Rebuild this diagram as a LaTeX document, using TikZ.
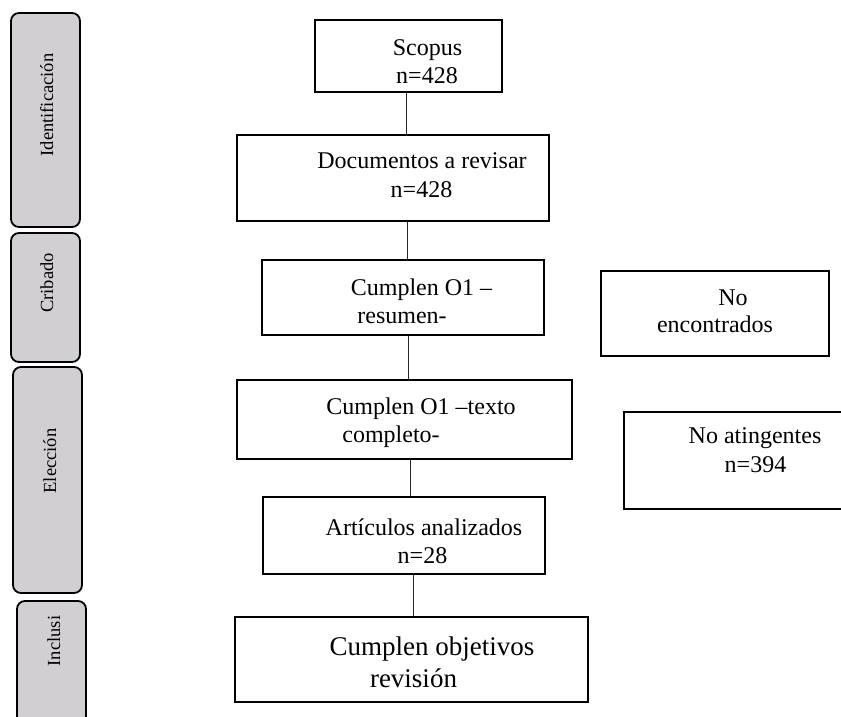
\documentclass[tikz,border=0pt]{standalone}
\usepackage{fontspec}
\setmainfont{Liberation Serif}
\definecolor{phase}{RGB}{209,207,210}
\begin{document}
\begin{tikzpicture}[x=1pt,y=-1pt,
  phasebox/.style={draw=black, line width=1.8pt, fill=phase, rounded corners=8pt, inner sep=0pt},
  flowbox/.style={draw=black, line width=1.6pt, inner sep=0pt},
  phasetext/.style={rotate=90, anchor=base, inner sep=0pt, font=\fontsize{18.5}{22}\selectfont},
  txt/.style={anchor=base, inner sep=0pt, font=\fontsize{24}{28}\selectfont},
  bigtxt/.style={anchor=base, inner sep=0pt, font=\fontsize{27}{31}\selectfont},
  link/.style={draw=black!85, line width=1pt}]
\useasboundingbox (0,0) rectangle (841,716);
\clip (0,0) rectangle (841,716);
\fill[white] (0,0) rectangle (841,716);

% phase boxes
\node[phasebox, minimum width=69pt, minimum height=214pt] (ident) at (45.5,120) {};
\node[phasebox, minimum width=69pt, minimum height=129pt] (crib) at (45.5,297.5) {};
\node[phasebox, minimum width=69pt, minimum height=226pt] (elec) at (47.5,480) {};
\node[phasebox, minimum width=69pt, minimum height=123pt] (incl) at (51.5,662.5) {};
\node[phasetext] (identT) at (53,105) {Identificación};
\node[phasetext] (cribT) at (53,283) {Cribado};
\node[phasetext] (elecT) at (56,461) {Elección};
\node[phasetext] (inclT) at (60,641) {Inclusi};

% flow boxes
\node[flowbox, minimum width=187pt, minimum height=72pt] (scopus) at (408.5,56) {};
\node[flowbox, minimum width=312pt, minimum height=86pt] (docs) at (393,178) {};
\node[flowbox, minimum width=282pt, minimum height=75pt] (res) at (403,297.5) {};
\node[flowbox, minimum width=228pt, minimum height=85pt] (noenc) at (715,313.5) {};
\node[flowbox, minimum width=335pt, minimum height=79pt] (texto) at (404.5,419.5) {};
\node[flowbox, minimum width=266pt, minimum height=97pt] (noat) at (757,460.5) {};
\node[flowbox, minimum width=282pt, minimum height=77pt] (art) at (404,535.5) {};
\node[flowbox, minimum width=353pt, minimum height=85pt] (obj) at (411.5,659.5) {};

% texts
\node[txt] (scopusA) at (427.5,55) {Scopus};
\node[txt] (scopusB) at (427,83) {n=428};
\node[txt] (docsA) at (422,168) {Documentos a revisar};
\node[txt] (docsB) at (421.5,197) {n=428};
\node[txt] (resA) at (421.5,295) {Cumplen O1 –};
\node[txt] (resB) at (402,323) {resumen-};
\node[txt] (noencA) at (733,305) {No};
\node[txt] (noencB) at (715,332) {encontrados};
\node[txt] (textoA) at (421,414) {Cumplen O1 –texto};
\node[txt] (textoB) at (391,442) {completo-};
\node[txt] (noatA) at (755,443) {No atingentes};
\node[txt] (noatB) at (755.5,472) {n=394};
\node[txt] (artA) at (424,535) {Artículos analizados};
\node[txt] (artB) at (422.5,563) {n=28};
\node[bigtxt] (objA) at (432,655) {Cumplen objetivos};
\node[bigtxt] (objB) at (413.5,687) {revisión};

% connectors
\draw[link] ([xshift=-2.5pt]scopus.south) -- ([xshift=13pt]docs.north);
\draw[link] ([xshift=14pt]docs.south) -- ([xshift=4pt]res.north);
\draw[link] ([xshift=5pt]res.south) -- ([xshift=3.5pt]texto.north);
\draw[link] ([xshift=5.5pt]texto.south) -- ([xshift=6pt]art.north);
\draw[link] ([xshift=9pt]art.south) -- ([xshift=1.5pt]obj.north);
\end{tikzpicture}
\end{document}
